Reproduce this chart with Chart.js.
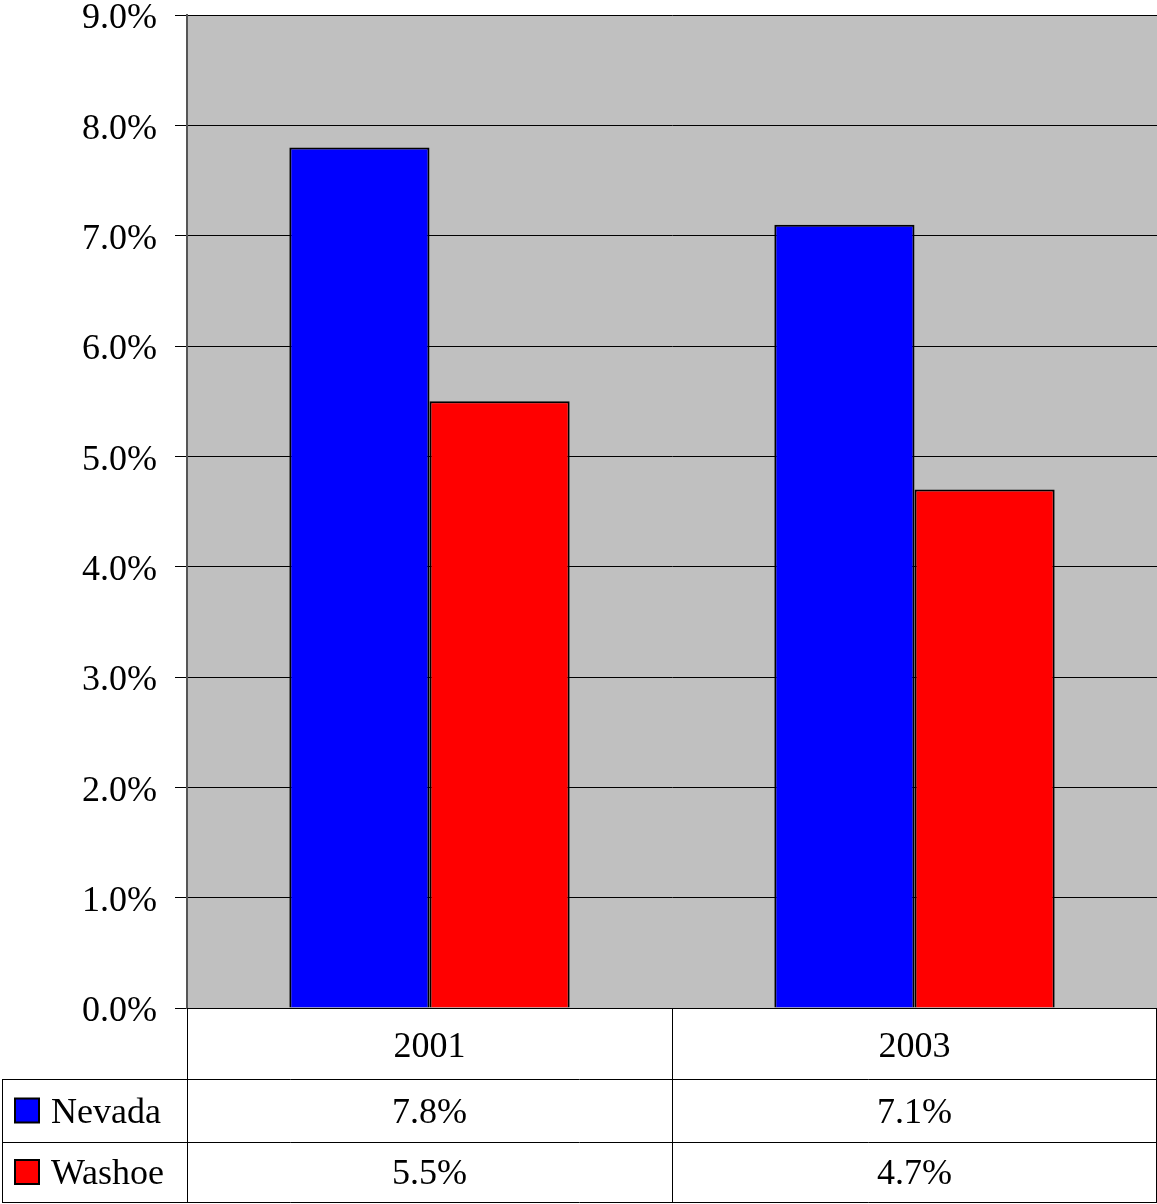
<!DOCTYPE html>
<html>
<head>
<meta charset="utf-8">
<script src="https://cdn.jsdelivr.net/npm/chart.js@4"></script>
<style>
  body { margin: 0; background: #fff; }
  #wrap { width: 1157px; height: 1204px; }
</style>
</head>
<body>
<div id="wrap"><canvas id="myChart" width="1157" height="1204"></canvas></div>
<script>
const years = ["2001", "2003"];
const nevada = [7.8, 7.1];
const washoe = [5.5, 4.7];
const seriesNames = ["Nevada", "Washoe"];
const seriesColors = ["#0000FF", "#FF0000"];

const FONT = "'Liberation Serif', 'Times New Roman', serif";

// gray plot background
const plotBg = {
  id: "plotBg",
  beforeDraw(chart) {
    const { ctx, chartArea: a } = chart;
    ctx.save();
    ctx.fillStyle = "#C0C0C0";
    ctx.fillRect(a.left, a.top, a.right - a.left, a.bottom - a.top);
    ctx.restore();
  }
};

// data table under the plot
const dataTable = {
  id: "dataTable",
  afterDraw(chart) {
    const { ctx, chartArea: a } = chart;
    const x = chart.scales.x;
    const rowTop = [a.bottom, 1079, 1142];
    const bottom = 1202;
    const colEdges = [a.left];
    years.forEach((y, i) => {
      colEdges.push(i < years.length - 1
        ? (x.getPixelForValue(i) + x.getPixelForValue(i + 1)) / 2
        : a.right);
    });

    ctx.save();
    ctx.strokeStyle = "#000";
    ctx.lineWidth = 1;
    ctx.beginPath();
    // horizontal lines
    ctx.moveTo(2, rowTop[1] + 0.5); ctx.lineTo(a.right, rowTop[1] + 0.5);
    ctx.moveTo(2, rowTop[2] + 0.5); ctx.lineTo(a.right, rowTop[2] + 0.5);
    ctx.moveTo(2, bottom + 0.5); ctx.lineTo(a.right, bottom + 0.5);
    // verticals
    ctx.moveTo(2.5, rowTop[1]); ctx.lineTo(2.5, bottom);
    colEdges.slice(0, -1).forEach(cx => {
      ctx.moveTo(Math.round(cx) + 0.5, a.bottom); ctx.lineTo(Math.round(cx) + 0.5, bottom);
    });
    ctx.moveTo(a.right - 0.5, a.bottom); ctx.lineTo(a.right - 0.5, bottom);
    ctx.stroke();

    ctx.fillStyle = "#000";
    ctx.font = "36px " + FONT;
    ctx.textAlign = "center";
    ctx.textBaseline = "middle";
    years.forEach((y, i) => {
      const cx = x.getPixelForValue(i);
      ctx.fillText(y, cx, (rowTop[0] + rowTop[1]) / 2 + 4);
      ctx.fillText(nevada[i].toFixed(1) + "%", cx, (rowTop[1] + rowTop[2]) / 2 + 3);
      ctx.fillText(washoe[i].toFixed(1) + "%", cx, (rowTop[2] + bottom) / 2 + 3);
    });

    // legend keys + names
    ctx.textAlign = "left";
    seriesNames.forEach((name, i) => {
      const top = rowTop[i + 1], bot = i === 0 ? rowTop[2] : bottom;
      const mid = (top + bot) / 2;
      ctx.fillStyle = seriesColors[i];
      ctx.fillRect(15, mid - 12, 24, 24);
      ctx.strokeStyle = "#000";
      ctx.lineWidth = 2;
      ctx.strokeRect(15, mid - 12, 24, 24);
      ctx.fillStyle = "#000";
      ctx.fillText(name, 51, mid + 3);
    });
    ctx.restore();
  }
};

new Chart(document.getElementById("myChart"), {
  type: "bar",
  data: {
    labels: years,
    datasets: [
      { label: seriesNames[0], data: nevada, backgroundColor: seriesColors[0], borderColor: "#000", borderWidth: 2 },
      { label: seriesNames[1], data: washoe, backgroundColor: seriesColors[1], borderColor: "#000", borderWidth: 2 }
    ]
  },
  options: {
    responsive: false,
    animation: false,
    devicePixelRatio: 1,
    layout: { padding: { top: 15, right: 0, bottom: 196, left: 0 } },
    plugins: { legend: { display: false }, tooltip: { enabled: false } },
    datasets: { bar: { categoryPercentage: 0.578, barPercentage: 1 } },
    scales: {
      x: { display: false },
      y: {
        min: 0, max: 9,
        afterFit(s) { s.width = 187; s.paddingTop = 0; s.paddingBottom = 0; },
        ticks: {
          stepSize: 1,
          color: "#000",
          padding: 18,
          labelOffset: 4,
          font: { family: FONT, size: 36 },
          callback: v => v.toFixed(1) + "%"
        },
        grid: { color: "#000", lineWidth: 1, tickLength: 12, drawTicks: true },
        border: { color: "#555", width: 2 }
      }
    }
  },
  plugins: [plotBg, dataTable]
});
</script>
</body>
</html>
